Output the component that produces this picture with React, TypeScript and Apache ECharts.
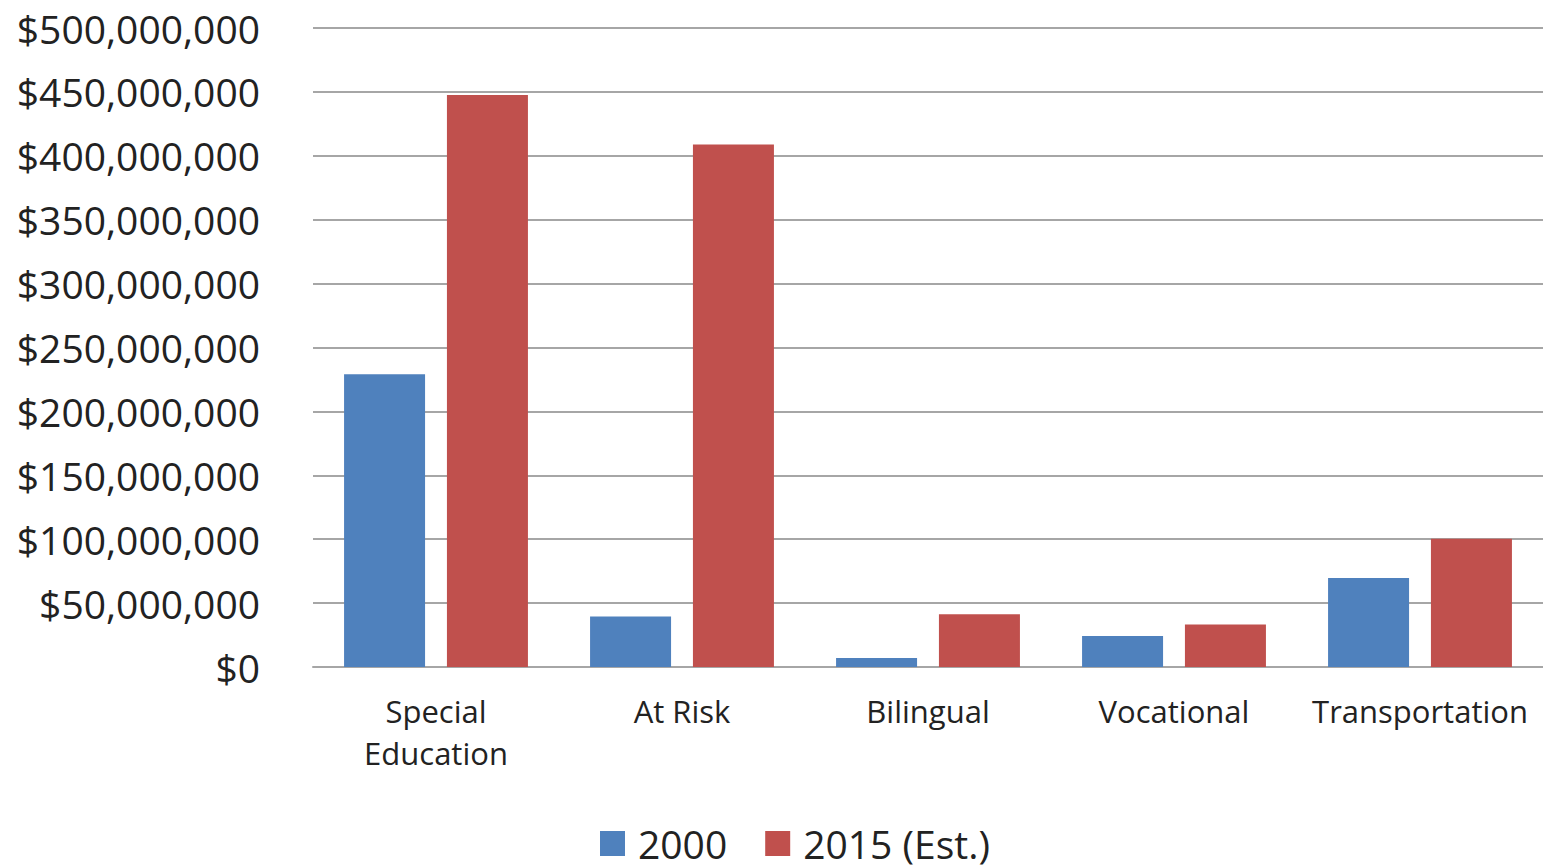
import React, { useEffect, useRef } from "react";
import * as echarts from "echarts";

const categories = ["Special\nEducation", "At Risk", "Bilingual", "Vocational", "Transportation"];
const series2000 = [229000000, 39500000, 7000000, 24300000, 69600000];
const series2015 = [447500000, 408800000, 41200000, 33200000, 100300000];
const seriesNames = ["2000", "2015 (Est.)"];
const yMax = 500000000;
const yInterval = 50000000;

const fmt = (v: number) => "$" + v.toLocaleString("en-US");

export default function App() {
  const ref = useRef<HTMLDivElement>(null);
  useEffect(() => {
    if (!ref.current) return;
    const chart = echarts.init(ref.current, null, { renderer: "svg" });
    const font = "'Open Sans', sans-serif";
    chart.setOption({
      animation: false,
      backgroundColor: "#ffffff",
      grid: { left: 313, right: 0, top: 28, bottom: 199, containLabel: false },
      legend: {
        data: seriesNames,
        left: 600,
        top: 824,
        padding: 0,
        itemWidth: 25,
        itemHeight: 25,
        itemGap: 38,
        icon: "rect",
        textStyle: { fontFamily: font, fontSize: 39, color: "#222222", padding: [0, 0, 0, 8], lineHeight: 34 },
      },
      xAxis: {
        type: "category",
        data: categories,
        axisLine: { show: true, lineStyle: { color: "#a6a6a6", width: 2 } },
        axisTick: { show: false },
        axisLabel: {
          fontFamily: font,
          fontSize: 31,
          lineHeight: 42,
          color: "#222222",
          margin: 23,
          interval: 0,
        },
      },
      yAxis: {
        type: "value",
        min: 0,
        max: yMax,
        interval: yInterval,
        axisLine: { show: false },
        axisTick: { show: false },
        splitLine: { lineStyle: { color: "#a6a6a6", width: 2 } },
        axisLabel: {
          fontFamily: font,
          fontSize: 39,
          color: "#222222",
          margin: 53,
          formatter: (v: number) => fmt(v),
        },
      },
      series: [
        {
          name: seriesNames[0],
          type: "bar",
          data: series2000,
          barWidth: 81,
          barGap: "27%",
          itemStyle: { color: "#4f81bd" },
        },
        {
          name: seriesNames[1],
          type: "bar",
          data: series2015,
          barWidth: 81,
          itemStyle: { color: "#c0504d" },
        },
      ],
    });
    return () => chart.dispose();
  }, []);
  return (
    <div
      ref={ref}
      style={{ position: "fixed", left: 0, top: 0, width: 1543, height: 866, background: "#fff" }}
    />
  );
}
